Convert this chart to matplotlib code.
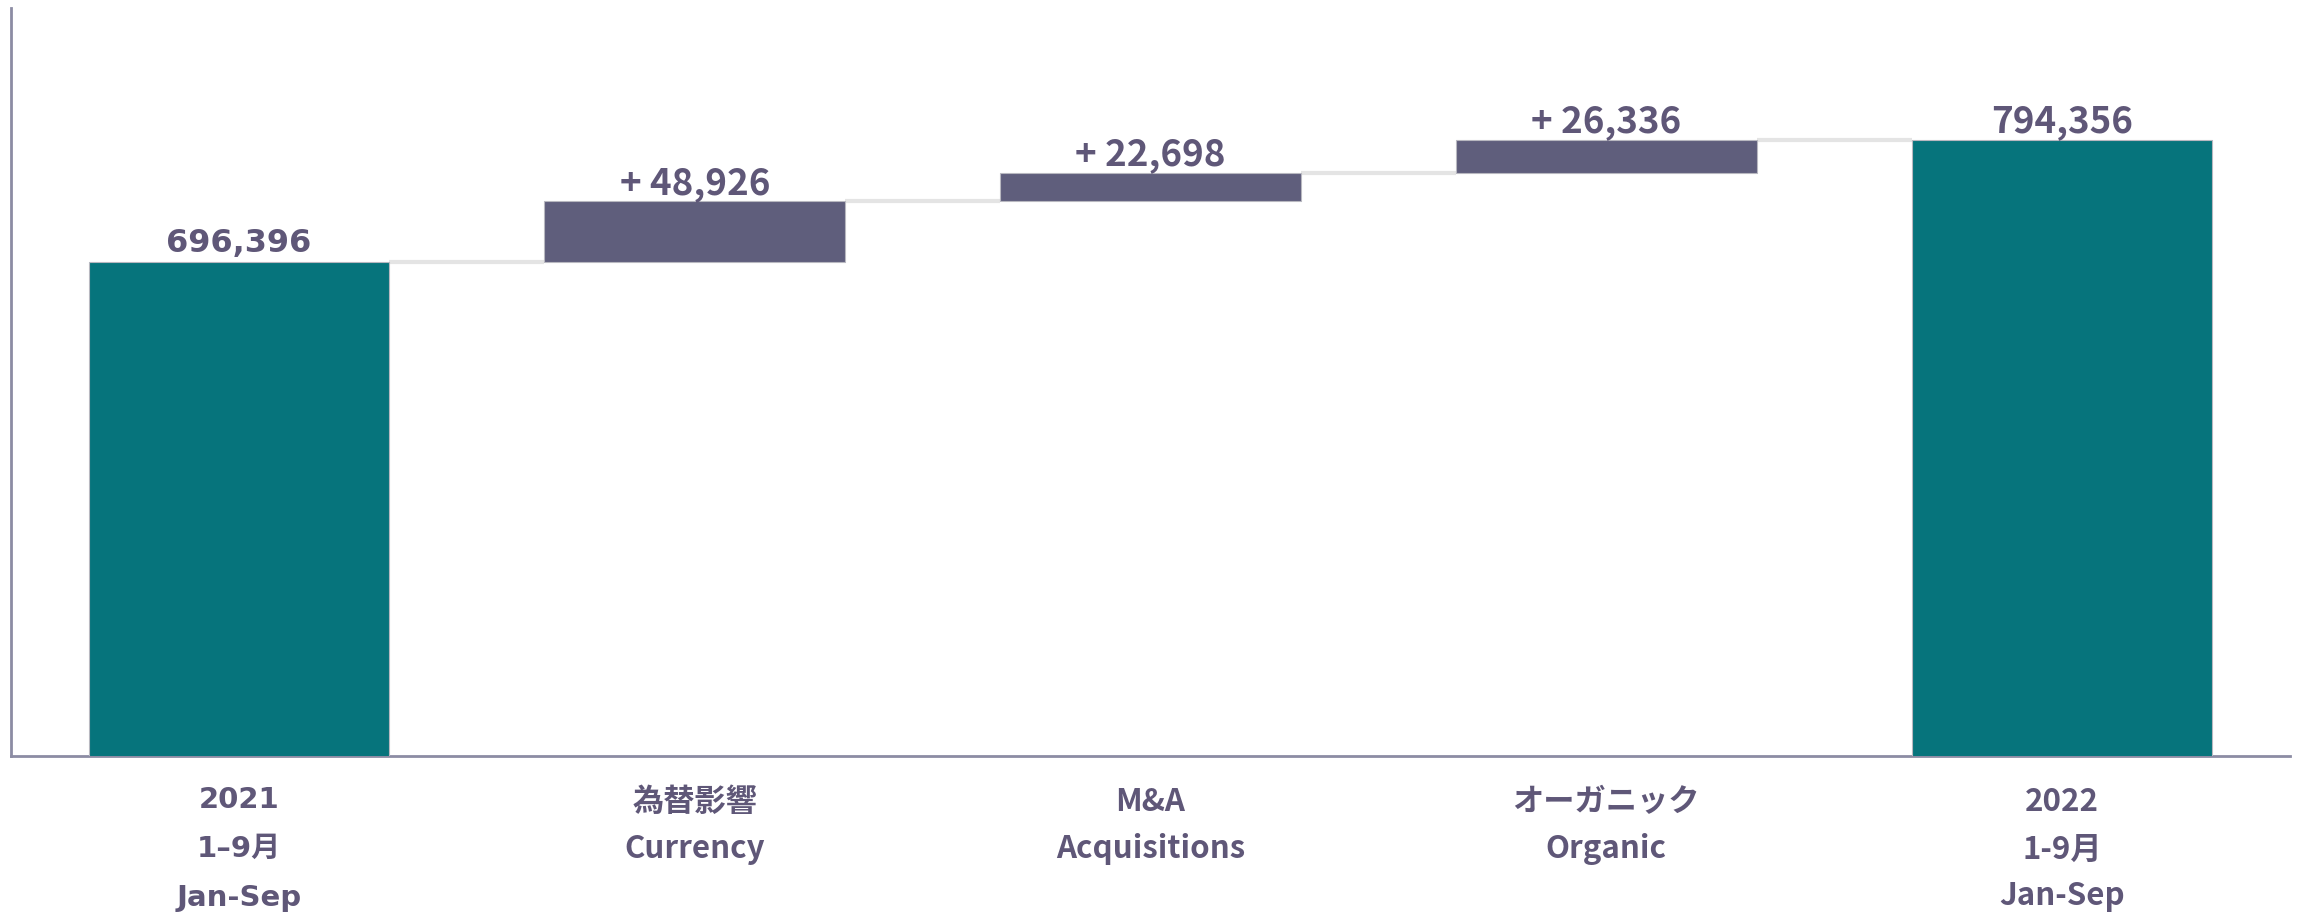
import matplotlib.pyplot as plt

categories = ["2021\n1–9月\nJan-Sep", "為替影響\nCurrency", "M&A\nAcquisitions",
              "オーガニック\nOrganic", "2022\n1-9月\nJan-Sep"]
start_total = 696396
deltas = [48926, 22698, 26336]
end_total = 794356

teal = "#06747c"
purple = "#5f5e7c"
text_col = "#5f5778"

fig = plt.figure(figsize=(22.98, 9.14), dpi=100)
ax = fig.add_axes([0.0048, 0.173, 0.9917, 0.818])

# bar bottoms / heights for the waterfall
bottoms = [0]
heights = [start_total]
level = start_total
for d in deltas:
    bottoms.append(level)
    heights.append(d)
    level += d
bottoms.append(0)
heights.append(end_total)
colors = [teal, purple, purple, purple, teal]

x = list(range(len(categories)))
w = 0.66
ax.bar(x, heights, bottom=bottoms, width=w, color=colors,
       edgecolor="#b8b8c0", linewidth=0.8, zorder=3)

# connector lines
tops = [b + h for b, h in zip(bottoms, heights)]
for i in range(len(x) - 1):
    ax.plot([x[i] + w / 2, x[i + 1] - w / 2], [tops[i], tops[i]],
            color="#e4e4e4", lw=3, zorder=2, solid_capstyle="butt")

# value labels
labels = [f"{start_total:,}"] + [f"+ {d:,}" for d in deltas] + [f"{end_total:,}"]
for i, lab in enumerate(labels):
    if i == 0:
        fam = ["DejaVu Sans"]
        fs = 23
        off = 2500
    else:
        fam = ["Noto Sans CJK JP", "DejaVu Sans"]
        fs = 26.5
        off = -500
    ax.text(x[i], tops[i] + off, lab, ha="center", va="bottom",
            fontsize=fs, fontweight="bold", color=text_col, family=fam)

ax.set_xlim(-0.5, 4.5)
ax.set_ylim(300000, 900000)
ax.set_yticks([])
ax.set_xticks(x)
ax.set_xticklabels(categories)
for i, t in enumerate(ax.get_xticklabels()):
    if i == 0:
        t.set_family(["DejaVu Sans", "Noto Sans CJK JP"])
        t.set_fontsize(21)
        t.set_linespacing(1.95)
    else:
        t.set_family(["Noto Sans CJK JP", "DejaVu Sans"])
        t.set_fontsize(22.5)
        t.set_linespacing(1.6)
    t.set_fontweight("bold")
    t.set_color(text_col)
    t.set_verticalalignment("top")
ax.tick_params(axis="x", length=0, pad=22)

for s in ["top", "right"]:
    ax.spines[s].set_visible(False)
for s in ["left", "bottom"]:
    ax.spines[s].set_color("#8c8ca4")
    ax.spines[s].set_linewidth(2)

fig.savefig("out.png", dpi=100)
